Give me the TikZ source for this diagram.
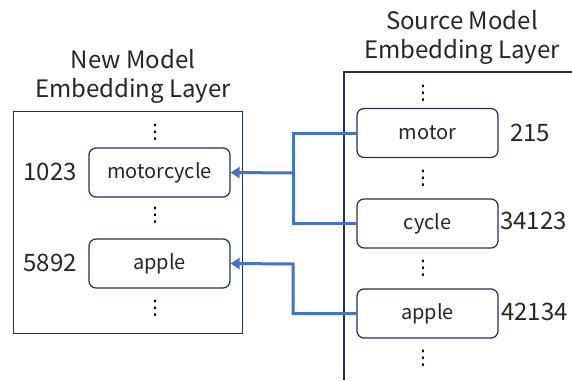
\documentclass[tikz,border=0pt]{standalone}
\usepackage{fontspec}
\setmainfont{Noto Sans CJK JP}
\newfontfamily\symfont{DejaVu Sans}
\usetikzlibrary{arrows.meta}
\definecolor{navy}{HTML}{1F3150}
\definecolor{linkblue}{HTML}{4472C4}
\definecolor{txt}{HTML}{262626}
\tikzset{
  tok/.style={draw=navy, line width=1.2pt, rounded corners=7pt, minimum width=141pt, minimum height=49pt, inner sep=0pt, font=\fontsize{20}{20}\selectfont, text=txt},
  lbl/.style={font=\fontsize{24}{24}\selectfont, text=txt, inner sep=0pt},
  ttl/.style={font=\fontsize{24}{29}\selectfont, text=txt, align=center, inner sep=0pt},
  vd/.style={font=\symfont\fontsize{20}{20}\selectfont, text=black, inner sep=0pt},
  link/.style={draw=linkblue, line width=3pt},
  frame/.style={draw=navy, line width=1.2pt}
}
\begin{document}
\begin{tikzpicture}[x=1pt,y=-1pt]
\useasboundingbox (0,0) rectangle (572,380);
% left frame
\node[frame, minimum width=229pt, minimum height=222pt, inner sep=0pt, anchor=north west] (newbox) at (13,111) {};
\node[ttl] (newtitle) at (133,76) {New Model\\Embedding Layer};
\node[tok] (mc) at (159.5,172.5) {motorcycle};
\node[tok] (ap1) at (159.5,263.5) {apple};
\node[lbl] (n1023) at (50,172) {1023};
\node[lbl] (n5892) at (50,263) {5892};
\node[vd] (d1) at (155,132) {⋮};
\node[vd] (d2) at (155,215) {⋮};
\node[vd] (d3) at (155,308) {⋮};
% right frame
\coordinate (rb) at (344,380);
\coordinate (rt) at (344,72);
\coordinate (rr) at (572,72);
\draw[frame] (rb) -- (rt) -- (rr);
\node[ttl] (srctitle) at (462,37) {Source Model\\Embedding Layer};
\node[tok] (mo) at (427.5,133) {motor};
\node[tok] (cy) at (427.5,223.5) {cycle};
\node[tok] (ap2) at (427.5,313.5) {apple};
\node[lbl, anchor=west] (n215) at (510,133) {215};
\node[lbl, anchor=west] (n34123) at (500,221) {34123};
\node[lbl, anchor=west] (n42134) at (501,312) {42134};
\node[vd] (e1) at (423,93) {⋮};
\node[vd] (e2) at (423,178) {⋮};
\node[vd] (e3) at (423,268) {⋮};
\node[vd] (e4) at (423,358) {⋮};
% connectors
\coordinate (j1) at (293,173);
\draw[link] (mo.west) -| (j1) |- (cy.west);
\draw[link, -{Triangle[width=11pt,length=9pt]}] (j1) -- (mc.east);
\draw[link, -{Triangle[width=11pt,length=9pt]}] (ap2.west) -| (293,264) -- (ap1.east);
\end{tikzpicture}
\end{document}
